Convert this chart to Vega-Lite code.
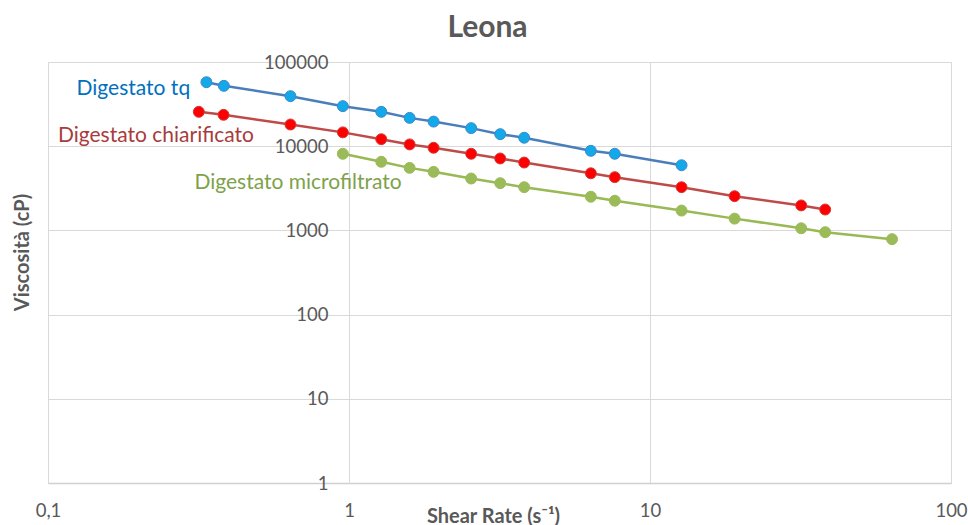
{
  "$schema": "https://vega.github.io/schema/vega-lite/v6.json",
  "width": 903,
  "height": 421,
  "autosize": {"type": "none"},
  "padding": {"left": 48, "top": 62, "right": 17, "bottom": 42},
  "background": "white",
  "title": {
    "text": "Leona",
    "font": "Lato",
    "fontSize": 30,
    "fontWeight": "bold",
    "color": "#595959",
    "anchor": "middle",
    "dx": -12,
    "offset": 10
  },
  "config": {"view": {"stroke": null}, "font": "Lato"},
  "datasets": {
    "misure": [
      {"serie": "Digestato tq", "x": 0.336, "y": 57500},
      {"serie": "Digestato tq", "x": 0.384, "y": 52100},
      {"serie": "Digestato tq", "x": 0.639, "y": 39300},
      {"serie": "Digestato tq", "x": 0.954, "y": 29900},
      {"serie": "Digestato tq", "x": 1.28, "y": 25600},
      {"serie": "Digestato tq", "x": 1.59, "y": 21700},
      {"serie": "Digestato tq", "x": 1.91, "y": 19600},
      {"serie": "Digestato tq", "x": 2.546, "y": 16400},
      {"serie": "Digestato tq", "x": 3.18, "y": 13900},
      {"serie": "Digestato tq", "x": 3.82, "y": 12600},
      {"serie": "Digestato tq", "x": 6.36, "y": 8810},
      {"serie": "Digestato tq", "x": 7.64, "y": 8130},
      {"serie": "Digestato tq", "x": 12.73, "y": 5940},
      {"serie": "Digestato chiarificato", "x": 0.317, "y": 25600},
      {"serie": "Digestato chiarificato", "x": 0.383, "y": 23600},
      {"serie": "Digestato chiarificato", "x": 0.639, "y": 18100},
      {"serie": "Digestato chiarificato", "x": 0.954, "y": 14600},
      {"serie": "Digestato chiarificato", "x": 1.28, "y": 12100},
      {"serie": "Digestato chiarificato", "x": 1.59, "y": 10500},
      {"serie": "Digestato chiarificato", "x": 1.91, "y": 9580},
      {"serie": "Digestato chiarificato", "x": 2.546, "y": 8130},
      {"serie": "Digestato chiarificato", "x": 3.18, "y": 7150},
      {"serie": "Digestato chiarificato", "x": 3.82, "y": 6400},
      {"serie": "Digestato chiarificato", "x": 6.36, "y": 4770},
      {"serie": "Digestato chiarificato", "x": 7.64, "y": 4290},
      {"serie": "Digestato chiarificato", "x": 12.73, "y": 3260},
      {"serie": "Digestato chiarificato", "x": 19.1, "y": 2550},
      {"serie": "Digestato chiarificato", "x": 31.8, "y": 1980},
      {"serie": "Digestato chiarificato", "x": 38.2, "y": 1770},
      {"serie": "Digestato microfiltrato", "x": 0.954, "y": 8130},
      {"serie": "Digestato microfiltrato", "x": 1.28, "y": 6530},
      {"serie": "Digestato microfiltrato", "x": 1.59, "y": 5530},
      {"serie": "Digestato microfiltrato", "x": 1.91, "y": 4960},
      {"serie": "Digestato microfiltrato", "x": 2.546, "y": 4130},
      {"serie": "Digestato microfiltrato", "x": 3.18, "y": 3640},
      {"serie": "Digestato microfiltrato", "x": 3.82, "y": 3260},
      {"serie": "Digestato microfiltrato", "x": 6.36, "y": 2510},
      {"serie": "Digestato microfiltrato", "x": 7.64, "y": 2250},
      {"serie": "Digestato microfiltrato", "x": 12.73, "y": 1720},
      {"serie": "Digestato microfiltrato", "x": 19.1, "y": 1380},
      {"serie": "Digestato microfiltrato", "x": 31.8, "y": 1060},
      {"serie": "Digestato microfiltrato", "x": 38.2, "y": 953},
      {"serie": "Digestato microfiltrato", "x": 63.7, "y": 787}
    ],
    "etichette": [
      {"serie": "Digestato tq", "x": 0.1244, "y": 41100},
      {"serie": "Digestato chiarificato", "x": 0.1079, "y": 11070},
      {"serie": "Digestato microfiltrato", "x": 0.3066, "y": 3100}
    ]
  },
  "encoding": {
    "x": {
      "field": "x",
      "type": "quantitative",
      "scale": {"type": "log", "domain": [0.1, 100], "nice": false},
      "axis": {
        "values": [0.1, 1, 10, 100],
        "format": "~g",
        "labelExpr": "replace(datum.label, '.', ',')",
        "labelFlush": false,
        "labelOverlap": false,
        "labelFont": "Lato",
        "labelFontSize": 18.5,
        "labelColor": "#595959",
        "labelBaseline": "alphabetic",
        "labelPadding": 33,
        "ticks": false,
        "tickSize": 0,
        "grid": true,
        "gridColor": "#D9D9D9",
        "domainColor": "#D0D0D0",
        "domainWidth": 1.5,
        "title": "Shear Rate (s⁻¹)",
        "titleFont": "Lato",
        "titleFontSize": 20,
        "titleFontWeight": "bold",
        "titleColor": "#595959",
        "titleX": 445,
        "titleY": 39,
        "titleBaseline": "alphabetic",
        "titleAlign": "center"
      }
    },
    "y": {
      "field": "y",
      "type": "quantitative",
      "scale": {"type": "log", "domain": [1, 100000], "nice": false},
      "axis": {
        "orient": "left",
        "offset": -301,
        "values": [1, 10, 100, 1000, 10000, 100000],
        "format": "d",
        "labelFlush": false,
        "labelOverlap": false,
        "labelFont": "Lato",
        "labelFontSize": 18.5,
        "labelColor": "#595959",
        "labelPadding": 21,
        "ticks": false,
        "tickSize": 0,
        "grid": true,
        "gridColor": "#D9D9D9",
        "domainColor": "#D9D9D9",
        "title": "Viscosità (cP)",
        "titleFont": "Lato",
        "titleFontSize": 20,
        "titleFontWeight": "bold",
        "titleColor": "#595959",
        "titleX": -327,
        "titleY": 190,
        "titleBaseline": "middle",
        "titleAlign": "center",
        "titleAngle": 270
      }
    }
  },
  "layer": [
    {
      "data": {"name": "misure"},
      "mark": {"type": "line", "strokeWidth": 2.5},
      "encoding": {
        "color": {
          "field": "serie",
          "type": "nominal",
          "scale": {
            "domain": ["Digestato tq", "Digestato chiarificato", "Digestato microfiltrato"],
            "range": ["#4A7EBB", "#BE4B48", "#98B954"]
          },
          "legend": null
        }
      }
    },
    {
      "data": {"name": "misure"},
      "mark": {"type": "circle", "size": 120, "strokeWidth": 1, "opacity": 1},
      "encoding": {
        "fill": {
          "field": "serie",
          "type": "nominal",
          "scale": {
            "domain": ["Digestato tq", "Digestato chiarificato", "Digestato microfiltrato"],
            "range": ["#12A9E8", "#FF0000", "#9BBB59"]
          },
          "legend": null
        },
        "stroke": {
          "field": "serie",
          "type": "nominal",
          "scale": {
            "domain": ["Digestato tq", "Digestato chiarificato", "Digestato microfiltrato"],
            "range": ["#3F86CC", "#D23A3A", "#9BBB59"]
          },
          "legend": null
        }
      }
    },
    {
      "data": {"name": "etichette"},
      "mark": {"type": "text", "align": "left", "baseline": "alphabetic", "font": "Lato", "fontSize": 21},
      "encoding": {
        "text": {"field": "serie", "type": "nominal"},
        "color": {
          "field": "serie",
          "type": "nominal",
          "scale": {
            "domain": ["Digestato tq", "Digestato chiarificato", "Digestato microfiltrato"],
            "range": ["#0070C0", "#A83C3C", "#7EA24A"]
          },
          "legend": null
        }
      }
    }
  ],
  "resolve": {"scale": {"color": "independent"}}
}
